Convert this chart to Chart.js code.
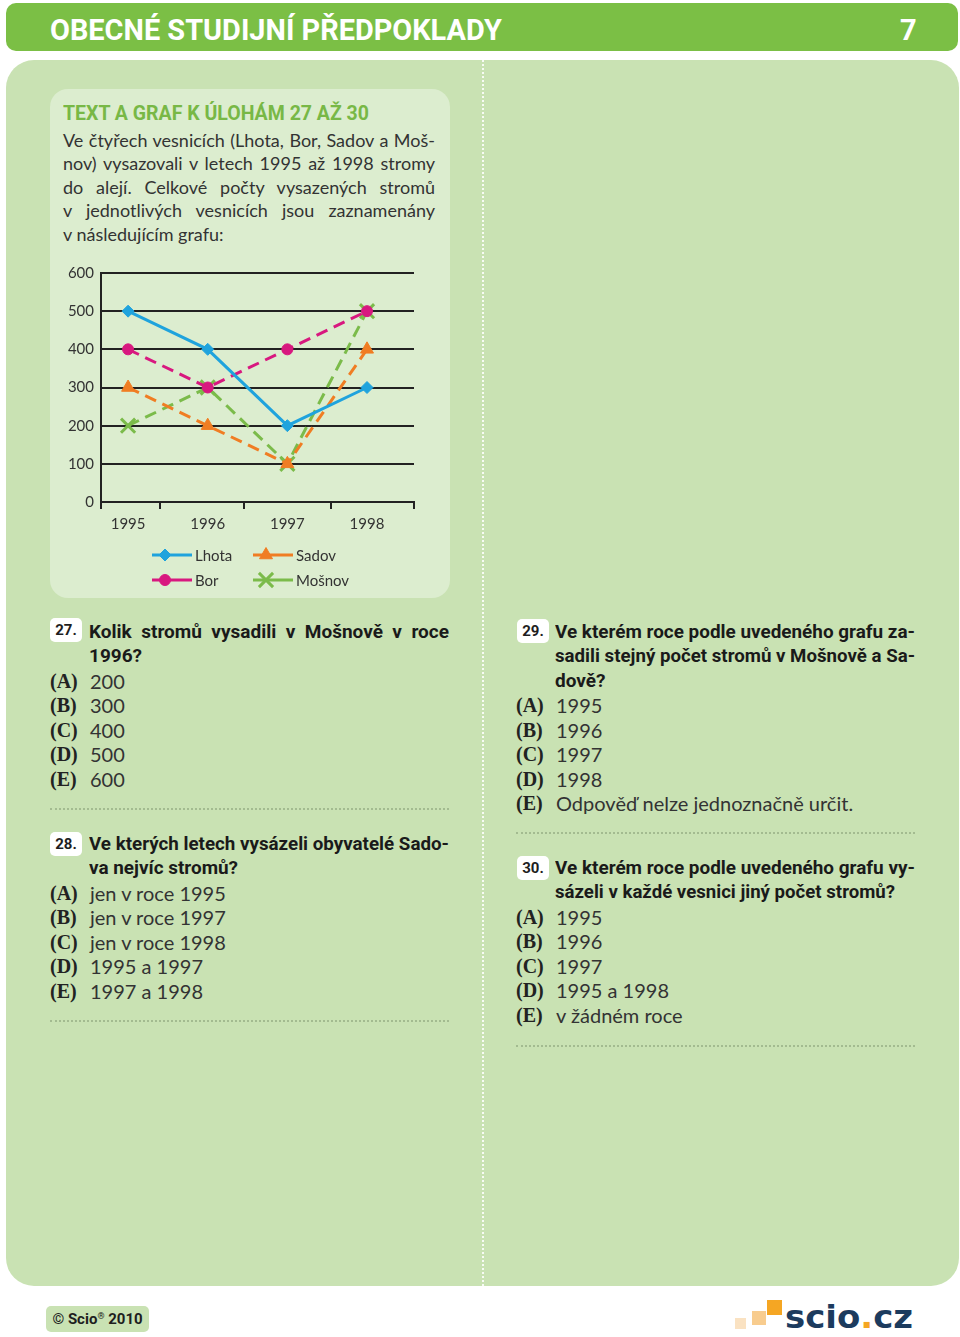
<!DOCTYPE html>
<html lang="cs">
<head>
<meta charset="utf-8">
<title>Obecné studijní předpoklady – 7</title>
<script src="https://cdn.jsdelivr.net/npm/chart.js@4.4.1/dist/chart.umd.min.js"></script>
<style>
  html, body { margin: 0; padding: 0; background: #fff; }
  .page { position: relative; width: 960px; height: 1337px; overflow: hidden; font-family: Lato, 'Open Sans', sans-serif; color: #2b2b2b; }
  .abs { position: absolute; }
  .header { left: 6px; top: 3px; width: 952px; height: 48px; border-radius: 10px; background: #7bbf45; }
  .panel { left: 6px; top: 60px; width: 953px; height: 1226px; border-radius: 28px; background: #c9e2b3; }
  .divider { left: 482px; top: 60px; height: 1226px; width: 0; border-left: 2px dotted rgba(255, 255, 255, 0.85); }
  .box { left: 50px; top: 89px; width: 400px; height: 509px; border-radius: 18px; background: #dcedcf; }
  .line { position: absolute; white-space: nowrap; transform-origin: 0 50%; }
  .title { color: #fff; font: 700 29px/40px Roboto, sans-serif; }
  .heading { color: #78b846; font: 700 20px/24px Roboto, sans-serif; }
  .intro { color: #333; font: 400 18px/24px Lato, sans-serif; }
  .q { color: #1a1a1a; font: 700 19px/24px Roboto, sans-serif; }
  .lab { color: #222; font: 700 20px/24px 'Liberation Serif', 'DejaVu Serif', serif; }
  .opt { color: #333; font: 400 20px/24px Lato, sans-serif; }
  .badge { position: absolute; width: 32px; height: 24px; border-radius: 5px; background: #fff; color: #1e1e1e; font: 700 15px/24px Roboto, sans-serif; text-align: center; }
  .dots { position: absolute; height: 0; width: 399px; border-top: 2px dotted #a3bb90; }
  #chartBox { position: absolute; left: 50px; top: 255px; width: 390px; height: 285px; }
  #legend { position: absolute; left: 152px; top: 543px; display: grid; grid-template-columns: 101px 101px; grid-template-rows: 25px 25px; grid-auto-flow: column; font: 400 15px/24px Lato, sans-serif; color: #333; }
  #legend .item { display: flex; align-items: center; height: 24px; }
  #legend canvas { margin-right: 3px; }
  .footer { left: 46px; top: 1306px; width: 103px; height: 26px; border-radius: 5px; background: #c9e2b3; color: #1e1e1e; font: 700 15px/26px Roboto, sans-serif; text-align: center; }
  .footer sup { font-size: 9px; vertical-align: 5px; line-height: 0; }
  .sq { position: absolute; }
  .logo { color: #1c3b5e; font: 700 32px/36px 'DejaVu Sans', sans-serif; }
  .logo span { color: #f5a623; }
</style>
</head>
<body>
<div class="page">
  <div class="abs header"></div>
  <div class="line title" style="left:50px;top:10px" data-w="452" data-mode="fit">OBECNÉ STUDIJNÍ PŘEDPOKLADY</div>
  <div class="line title" style="left:900px;top:10px">7</div>

  <div class="abs panel"></div>
  <div class="abs divider"></div>
  <div class="abs box"></div>

  <div class="line heading" style="left:63px;top:101px" data-w="306" data-mode="fit">TEXT A GRAF K ÚLOHÁM 27 AŽ 30</div>
  <div class="line intro" style="left:63px;top:128px" data-w="372">Ve čtyřech vesnicích (Lhota, Bor, Sadov a Moš-</div>
  <div class="line intro" style="left:63px;top:151px" data-w="372">nov) vysazovali v letech 1995 až 1998 stromy</div>
  <div class="line intro" style="left:63px;top:175px" data-w="372">do alejí. Celkové počty vysazených stromů</div>
  <div class="line intro" style="left:63px;top:198px" data-w="372">v jednotlivých vesnicích jsou zaznamenány</div>
  <div class="line intro" style="left:63px;top:222px">v následujícím grafu:</div>

  <div id="chartBox"><canvas id="chart"></canvas></div>
  <div id="legend"></div>

  <!-- 27 -->
  <div class="badge" style="left:50px;top:618px">27.</div>
  <div class="line q" style="left:89px;top:620px" data-w="360">Kolik stromů vysadili v Mošnově v roce</div>
  <div class="line q" style="left:89px;top:644px">1996?</div>
  <div class="line lab" style="left:50px;top:669px">(A)</div><div class="line opt" style="left:90px;top:669px">200</div>
  <div class="line lab" style="left:50px;top:693px">(B)</div><div class="line opt" style="left:90px;top:693px">300</div>
  <div class="line lab" style="left:50px;top:718px">(C)</div><div class="line opt" style="left:90px;top:718px">400</div>
  <div class="line lab" style="left:50px;top:742px">(D)</div><div class="line opt" style="left:90px;top:742px">500</div>
  <div class="line lab" style="left:50px;top:767px">(E)</div><div class="line opt" style="left:90px;top:767px">600</div>
  <div class="dots" style="left:50px;top:808px"></div>

  <!-- 28 -->
  <div class="badge" style="left:50px;top:832px">28.</div>
  <div class="line q" style="left:89px;top:832px" data-w="360">Ve kterých letech vysázeli obyvatelé Sado-</div>
  <div class="line q" style="left:89px;top:856px" data-w="149" data-mode="fit">va nejvíc stromů?</div>
  <div class="line lab" style="left:50px;top:881px">(A)</div><div class="line opt" style="left:90px;top:881px">jen v roce 1995</div>
  <div class="line lab" style="left:50px;top:905px">(B)</div><div class="line opt" style="left:90px;top:905px">jen v roce 1997</div>
  <div class="line lab" style="left:50px;top:930px">(C)</div><div class="line opt" style="left:90px;top:930px">jen v roce 1998</div>
  <div class="line lab" style="left:50px;top:954px">(D)</div><div class="line opt" style="left:90px;top:954px">1995 a 1997</div>
  <div class="line lab" style="left:50px;top:979px">(E)</div><div class="line opt" style="left:90px;top:979px">1997 a 1998</div>
  <div class="dots" style="left:50px;top:1020px"></div>

  <!-- 29 -->
  <div class="badge" style="left:517px;top:619px">29.</div>
  <div class="line q" style="left:555px;top:620px" data-w="360">Ve kterém roce podle uvedeného grafu za-</div>
  <div class="line q" style="left:555px;top:644px" data-w="360">sadili stejný počet stromů v Mošnově a Sa-</div>
  <div class="line q" style="left:555px;top:669px">dově?</div>
  <div class="line lab" style="left:516px;top:693px">(A)</div><div class="line opt" style="left:556px;top:693px">1995</div>
  <div class="line lab" style="left:516px;top:718px">(B)</div><div class="line opt" style="left:556px;top:718px">1996</div>
  <div class="line lab" style="left:516px;top:742px">(C)</div><div class="line opt" style="left:556px;top:742px">1997</div>
  <div class="line lab" style="left:516px;top:767px">(D)</div><div class="line opt" style="left:556px;top:767px">1998</div>
  <div class="line lab" style="left:516px;top:791px">(E)</div><div class="line opt" style="left:556px;top:791px">Odpověď nelze jednoznačně určit.</div>
  <div class="dots" style="left:516px;top:832px"></div>

  <!-- 30 -->
  <div class="badge" style="left:517px;top:856px">30.</div>
  <div class="line q" style="left:555px;top:856px" data-w="360">Ve kterém roce podle uvedeného grafu vy-</div>
  <div class="line q" style="left:555px;top:880px" data-w="340" data-mode="fit">sázeli v každé vesnici jiný počet stromů?</div>
  <div class="line lab" style="left:516px;top:905px">(A)</div><div class="line opt" style="left:556px;top:905px">1995</div>
  <div class="line lab" style="left:516px;top:929px">(B)</div><div class="line opt" style="left:556px;top:929px">1996</div>
  <div class="line lab" style="left:516px;top:954px">(C)</div><div class="line opt" style="left:556px;top:954px">1997</div>
  <div class="line lab" style="left:516px;top:978px">(D)</div><div class="line opt" style="left:556px;top:978px">1995 a 1998</div>
  <div class="line lab" style="left:516px;top:1003px">(E)</div><div class="line opt" style="left:556px;top:1003px">v žádném roce</div>
  <div class="dots" style="left:516px;top:1045px"></div>

  <div class="abs footer">© Scio<sup>®</sup> 2010</div>
  <div class="sq" style="left:735px;top:1318px;width:11px;height:11px;background:#fae2c2"></div>
  <div class="sq" style="left:752px;top:1311px;width:14px;height:14px;background:#f8cc8e"></div>
  <div class="sq" style="left:767px;top:1300px;width:15px;height:15px;background:#f5a623"></div>
  <div class="line logo" style="left:785px;top:1299px" data-w="128" data-mode="fit">scio<span>.</span>cz</div>
</div>

<script>
const years = [1995, 1996, 1997, 1998];
const lhota = [500, 400, 200, 300];
const bor = [400, 300, 400, 500];
const sadov = [300, 200, 100, 400];
const mosnov = [200, 300, 100, 500];
const yTickValues = [0, 100, 200, 300, 400, 500, 600];
const xTickMarks = [1995.4, 1996.45, 1997.55];

const axisColor = '#222';
const dashed = [12, 7];

const toPoints = (values) => years.map((year, i) => ({ x: year, y: values[i] }));

const series = (label, values, color, pointStyle, pointRadius, extra) => Object.assign({
  label,
  data: toPoints(values),
  borderColor: color,
  backgroundColor: color,
  pointBackgroundColor: color,
  pointBorderColor: color,
  borderWidth: 3,
  borderDash: dashed,
  pointStyle,
  pointRadius,
  pointHoverRadius: pointRadius,
  pointBorderWidth: 1,
  tension: 0,
}, extra);

const datasets = [
  series('Lhota', lhota, '#1fa3dd', 'rectRot', 6, { borderDash: [] }),
  series('Bor', bor, '#d8187f', 'circle', 5.5),
  series('Sadov', sadov, '#f07d23', 'triangle', 7.5),
  series('Mošnov', mosnov, '#7bbb4a', 'crossRot', 10, { pointBorderWidth: 3 }),
];

Chart.defaults.font.family = 'Lato, sans-serif';
Chart.defaults.font.size = 15;
Chart.defaults.color = '#333';

const chart = new Chart(document.getElementById('chart'), {
  type: 'line',
  data: { datasets },
  options: {
    responsive: true,
    maintainAspectRatio: false,
    devicePixelRatio: 1,
    animation: false,
    layout: { padding: { top: 18, right: 26, left: 0, bottom: 0 } },
    plugins: {
      legend: { display: false },
      tooltip: { enabled: false },
    },
    scales: {
      x: {
        type: 'linear',
        min: 1994.66,
        max: 1998.59,
        afterBuildTicks: (axis) => {
          axis.ticks = [axis.min, ...years, ...xTickMarks, axis.max]
            .sort((a, b) => a - b)
            .map((value) => ({ value }));
        },
        afterFit: (axis) => { axis.height = 38; },
        grid: {
          drawOnChartArea: false,
          drawTicks: true,
          tickLength: 7,
          lineWidth: 2,
          color: (ctx) => (ctx.tick && years.includes(ctx.tick.value) ? 'rgba(0,0,0,0)' : axisColor),
        },
        border: { display: true, color: axisColor, width: 2 },
        ticks: {
          autoSkip: false,
          maxRotation: 0,
          padding: 6,
          callback: (value) => (years.includes(value) ? String(value) : ''),
        },
      },
      y: {
        min: 0,
        max: 600,
        afterBuildTicks: (axis) => { axis.ticks = yTickValues.map((value) => ({ value })); },
        afterFit: (axis) => { axis.width = 51; },
        grid: { color: axisColor, lineWidth: 2, drawTicks: false },
        border: { display: true, color: axisColor, width: 2 },
        ticks: { padding: 7 },
      },
    },
  },
});

// legend: line sample with marker, two columns
function buildLegend() {
  const holder = document.getElementById('legend');
  const drawPoint = Chart.helpers && Chart.helpers.drawPoint;

  chart.data.datasets.forEach((ds) => {
    const item = document.createElement('div');
    item.className = 'item';

    const sample = document.createElement('canvas');
    sample.width = 40;
    sample.height = 24;
    const ctx = sample.getContext('2d');
    ctx.strokeStyle = ds.borderColor;
    ctx.fillStyle = ds.borderColor;
    ctx.lineWidth = 3;
    ctx.beginPath();
    ctx.moveTo(0, 12);
    ctx.lineTo(40, 12);
    ctx.stroke();

    ctx.lineWidth = ds.pointBorderWidth;
    if (drawPoint) {
      drawPoint(ctx, { pointStyle: ds.pointStyle, radius: ds.pointRadius, borderWidth: ds.pointBorderWidth, rotation: 0 }, 13, 12);
    } else {
      ctx.beginPath();
      ctx.arc(13, 12, 5, 0, Math.PI * 2);
      ctx.fill();
    }

    const text = document.createElement('span');
    text.textContent = ds.label;

    item.appendChild(sample);
    item.appendChild(text);
    holder.appendChild(item);
  });
}

// squeeze or justify the text lines to the widths of the printed page
function fitLines() {
  document.querySelectorAll('.line').forEach((el) => {
    const base = Number(el.dataset.s || 1);
    const target = Number(el.dataset.w || 0);
    const natural = el.getBoundingClientRect().width;
    let scale = base;

    if (target && el.dataset.mode === 'fit') {
      scale = target / natural;
    } else if (target) {
      const spaces = (el.textContent.match(/ /g) || []).length;
      if (natural * base > target || !spaces) {
        scale = target / natural;
      } else {
        el.style.wordSpacing = `${(target / base - natural) / spaces}px`;
      }
    }

    if (scale !== 1) el.style.transform = `scaleX(${scale})`;
  });
}

buildLegend();
fitLines();
</script>
</body>
</html>
